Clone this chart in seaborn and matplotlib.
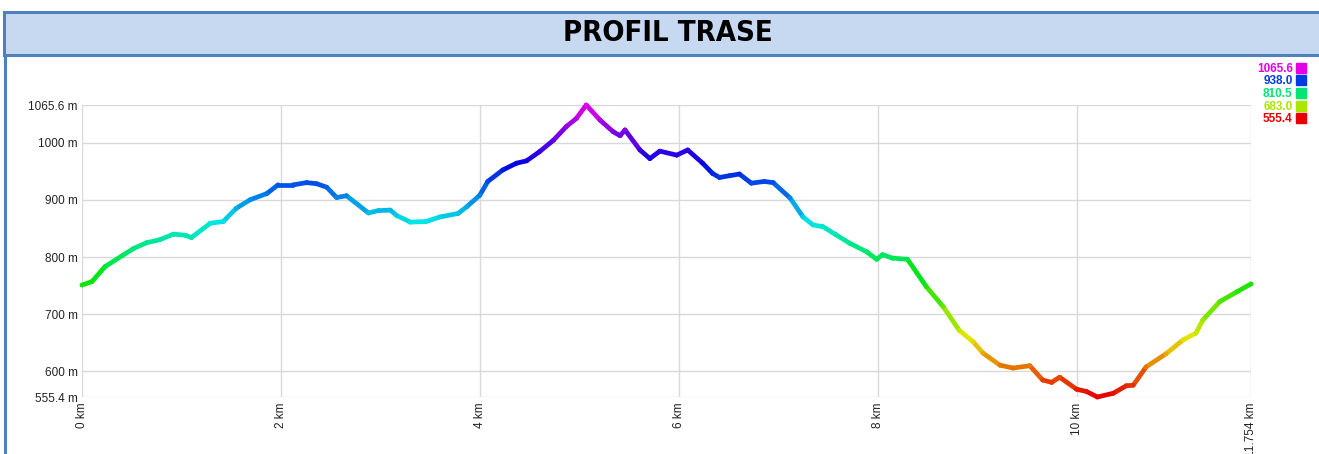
import numpy as np
import pandas as pd
import matplotlib
matplotlib.use("Agg")
import matplotlib.pyplot as plt
import seaborn as sns
from matplotlib.collections import LineCollection
from matplotlib.colors import ListedColormap, hsv_to_rgb
from matplotlib.lines import Line2D
from matplotlib.patches import Rectangle

# jarak (km) dan elevasi (m) hasil baca dari grafik
km = [0, 0.10, 0.23, 0.41, 0.52, 0.65, 0.78, 0.92, 1.04, 1.10, 1.29, 1.42, 1.55,
      1.69, 1.86, 1.97, 2.12, 2.26, 2.36, 2.46, 2.56, 2.66, 2.88, 2.98, 3.10, 3.16,
      3.30, 3.46, 3.60, 3.78, 3.87, 4.00, 4.08, 4.23, 4.37, 4.47, 4.60, 4.74, 4.87,
      4.97, 5.07, 5.21, 5.34, 5.41, 5.46, 5.61, 5.71, 5.81, 5.98, 6.09, 6.24, 6.34,
      6.41, 6.51, 6.61, 6.73, 6.86, 6.95, 7.12, 7.25, 7.35, 7.45, 7.58, 7.72, 7.89,
      7.99, 8.05, 8.15, 8.30, 8.49, 8.66, 8.82, 8.96, 9.06, 9.23, 9.36, 9.53, 9.66,
      9.75, 9.83, 10.00, 10.10, 10.21, 10.37, 10.50, 10.57, 10.70, 10.90, 11.07,
      11.20, 11.27, 11.44, 11.61, 11.754]
elev = [751, 757, 783, 803, 815, 825, 830, 840, 838, 834, 859, 862, 885,
        900, 911, 926, 926, 930, 928, 922, 904, 907, 877, 881, 882, 873,
        861, 862, 870, 876, 888, 908, 932, 952, 964, 968, 984, 1004, 1028,
        1042, 1065.6, 1039, 1019, 1012, 1022, 987, 972, 985, 978, 987, 964, 946,
        939, 942, 945, 929, 932, 930, 903, 870, 856, 853, 839, 824, 809,
        796, 804, 798, 796, 748, 713, 672, 652, 632, 611, 606, 610, 585,
        581, 590, 569, 565, 555.4, 562, 575, 576, 608, 631, 655,
        667, 690, 722, 739, 753]

x_ticks = [0, 2, 4, 6, 8, 10, 11.754]
x_labels = ["0 km", "2 km", "4 km", "6 km", "8 km", "10 km", "11.754 km"]
y_ticks = [555.4, 600, 700, 800, 900, 1000, 1065.6]
y_labels = ["555.4 m", "600 m", "700 m", "800 m", "900 m", "1000 m", "1065.6 m"]
legend_levels = [1065.6, 938.0, 810.5, 683.0, 555.4]
title = "PROFIL TRASE"

df = pd.DataFrame({"km": km, "elev": elev})
emin, emax = 555.4, 1065.6

# merah -> kuning -> hijau -> biru -> magenta
hues = np.linspace(0, 300 / 360, 256)
cmap = ListedColormap([hsv_to_rgb((h, 1.0, 0.9)) for h in hues])
norm = plt.Normalize(emin, emax)

sns.set_style("white")
plt.rcParams["font.family"] = ["Liberation Sans", "DejaVu Sans"]

fig = plt.figure(figsize=(13.19, 4.54), dpi=100)
W, H = 1319, 454
ax = fig.add_axes([82 / W, 1 - 397 / H, (1251 - 82) / W, (397 - 105) / H])

# header
fig.patches.append(Rectangle((4 / W, 1 - 55 / H), 1.0, 43 / H, transform=fig.transFigure,
                             facecolor="#c6d9f0", edgecolor="#4f81bd", lw=2.2, zorder=0))
fig.add_artist(Line2D([5 / W, 5 / W], [0, 1 - 55 / H], transform=fig.transFigure,
                      color="#4f81bd", lw=2.2))
fig.text(668 / W, 1 - 33 / H, title, ha="center", va="center", fontsize=21,
         fontweight="bold", family=["DejaVu Sans"], fontstretch="condensed",
         color="black")

# garis profil bergradasi
pts = df[["km", "elev"]].to_numpy()
segs = np.stack([pts[:-1], pts[1:]], axis=1)
mid = (df["elev"].to_numpy()[:-1] + df["elev"].to_numpy()[1:]) / 2
lc = LineCollection(segs, colors=cmap(norm(mid)), linewidths=3.4, capstyle="round",
                    zorder=3, clip_on=False)
ax.add_collection(lc)
sns.scatterplot(data=df, x="km", y="elev", hue="elev", palette=cmap, hue_norm=(emin, emax),
                s=10, linewidth=0, legend=False, ax=ax, zorder=4, clip_on=False)

ax.set_xlim(0, 11.754)
ax.set_ylim(emin, emax)
ax.set_xticks(x_ticks)
ax.set_xticklabels(x_labels, rotation=90, fontsize=8.5, color="#222222")
ax.set_yticks(y_ticks)
ax.set_yticklabels(y_labels, fontsize=8.5, color="#222222")
ax.tick_params(axis="both", length=0)
ax.tick_params(axis="x", pad=4)
ax.tick_params(axis="y", pad=3)
ax.grid(True, color="#d9d9d9", lw=1)
for s in ax.spines.values():
    s.set_visible(False)
ax.set_xlabel("")
ax.set_ylabel("")

# legenda warna
handles = [Line2D([], [], marker="s", ls="", markersize=7, color=cmap(norm(v)))
           for v in legend_levels]
leg = fig.legend(handles, [f"{v:.1f}" for v in legend_levels], loc="upper right",
                 bbox_to_anchor=(1311 / W, 1 - 57 / H), markerfirst=False, frameon=False,
                 prop={"size": 8.5, "weight": "bold"}, handlelength=0.7, handletextpad=0.35,
                 labelspacing=0.05, borderpad=0)
for t, v in zip(leg.get_texts(), legend_levels):
    t.set_color(cmap(norm(v)))
    t.set_ha("right")

fig.savefig("out.png", dpi=100)
